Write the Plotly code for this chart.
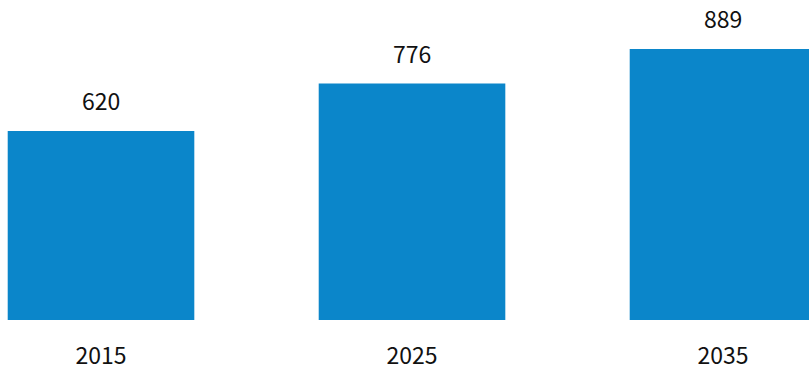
import plotly.graph_objects as go

years = ["2015", "2025", "2035"]
values = [620, 776, 889]
labels = ["620", "776", "889"]

FONT = "Noto Sans CJK KR"
fig = go.Figure()
fig.add_trace(go.Bar(
    x=years, y=values, marker_color="#0b86ca", marker_line_width=0,
    width=0.6, hoverinfo="skip",
))
for i, (v, t) in enumerate(zip(values, labels)):
    fig.add_annotation(x=i, y=v, xref="x", yref="y", text=t, showarrow=False,
                       yanchor="bottom", yshift=12,
                       font=dict(family=FONT, size=23, color="#111"))

fig.update_layout(
    width=809, height=366,
    margin=dict(l=0, r=0, t=0, b=46),
    paper_bgcolor="white", plot_bgcolor="white",
    showlegend=False,
    xaxis=dict(type="category", range=[-0.3248, 2.2765], showgrid=False, zeroline=False,
               showline=False, ticks="outside", ticklen=15, tickcolor="rgba(0,0,0,0)",
               automargin=False,
               tickfont=dict(family=FONT, size=23, color="#111")),
    yaxis=dict(range=[0, 1050], visible=False, automargin=False),
)
fig.write_html("out.html", config={"displayModeBar": False},
               post_script="document.body.style.margin='0';document.body.style.overflow='hidden';")
